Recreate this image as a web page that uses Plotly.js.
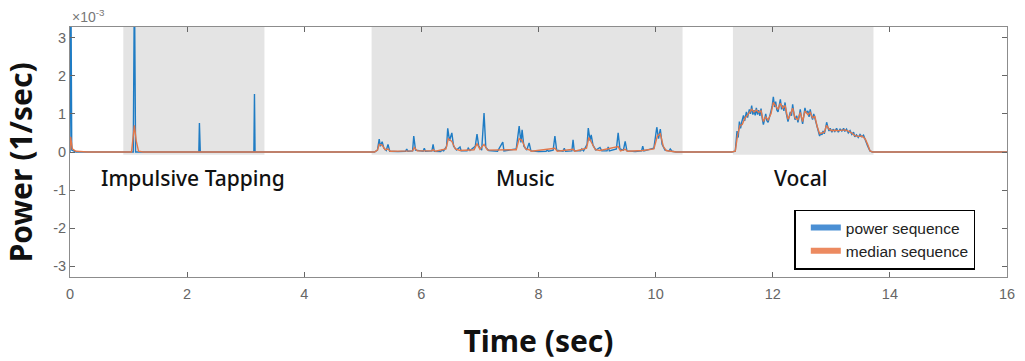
<!DOCTYPE html>
<html>
<head>
<meta charset="utf-8">
<script src="https://cdn.plot.ly/plotly-3.0.1.min.js"></script>
<style>html,body{margin:0;padding:0;background:#fff;}#chart{width:1025px;height:361px;}</style>
</head>
<body>
<div id="chart"></div>
<script>
// ---- data (values in units of 1e-3 1/sec) ----
const tPower = [
  0.00, 0.015, 0.03, 0.10,
  1.08, 1.10, 1.12,
  2.20, 2.21, 2.225,
  3.14, 3.15, 3.16,
  5.20, 5.25, 5.28, 5.30, 5.33, 5.36, 5.40, 5.43, 5.46, 5.60, 5.73, 5.75, 5.77, 5.85, 5.87, 5.90,
  6.03, 6.05, 6.07, 6.18, 6.20, 6.22, 6.33, 6.35, 6.38, 6.43, 6.45, 6.48, 6.52, 6.55, 6.60, 6.66, 6.68,
  6.78, 6.80, 6.83, 6.92, 6.95, 6.98, 7.03, 7.07, 7.10, 7.15, 7.30, 7.39, 7.41, 7.62, 7.67, 7.70, 7.72,
  7.75, 7.80, 7.84, 7.87, 8.00, 8.13, 8.15, 8.17, 8.25, 8.28, 8.31, 8.42, 8.44, 8.46, 8.57, 8.59, 8.61,
  8.72, 8.74, 8.77, 8.83, 8.85, 8.88, 8.90, 8.93, 8.98, 9.05, 9.08, 9.17, 9.19, 9.21, 9.33, 9.36, 9.39,
  9.45, 9.48, 9.51, 9.65, 9.76, 9.78, 9.80, 9.97, 10.02, 10.05, 10.08, 10.11, 10.16, 10.23, 10.25, 10.28, 10.35,
  11.30, 11.36, 11.39, 11.41, 11.43, 11.45, 11.47, 11.50, 11.52, 11.55, 11.57, 11.60, 11.62, 11.64, 11.66,
  11.68, 11.70, 11.72, 11.74, 11.76, 11.78, 11.80, 11.82, 11.84, 11.86, 11.88, 11.90, 11.92, 11.95, 11.97,
  11.99, 12.01, 12.03, 12.05, 12.07, 12.09, 12.11, 12.13, 12.15, 12.17, 12.19, 12.21, 12.23, 12.26, 12.28,
  12.30, 12.32, 12.34, 12.36, 12.38, 12.41, 12.43, 12.45, 12.47, 12.49, 12.51, 12.53, 12.55, 12.57, 12.60,
  12.62, 12.64, 12.66, 12.68, 12.70, 12.72, 12.74, 12.76, 12.78, 12.80, 12.82, 12.84, 12.86, 12.88, 12.90,
  12.92, 12.94, 12.96, 12.98, 13.01, 13.03, 13.06, 13.09, 13.12, 13.15, 13.18, 13.21, 13.23, 13.26, 13.29,
  13.32, 13.35, 13.38, 13.40, 13.43, 13.46, 13.49, 13.52, 13.55, 13.58, 13.60, 13.62, 13.66, 13.70,
  16.00
];
const power = [
  0.00, 4.50, 0.05, 0.00,
  0.00, 4.50, 0.00,
  0.00, 0.76, 0.00,
  0.00, 1.52, 0.00,
  0.00, 0.05, 0.34, 0.15, 0.27, 0.10, 0.04, 0.20, 0.02, 0.01, 0.02, 0.08, 0.02, 0.03, 0.42, 0.05,
  0.02, 0.10, 0.02, 0.03, 0.20, 0.02, 0.01, 0.05, 0.03, 0.15, 0.62, 0.30, 0.50, 0.15, 0.05, 0.13, 0.03,
  0.03, 0.10, 0.04, 0.15, 0.47, 0.15, 0.05, 1.02, 0.12, 0.04, 0.02, 0.26, 0.03, 0.08, 0.68, 0.25, 0.58,
  0.15, 0.05, 0.24, 0.03, 0.01, 0.02, 0.05, 0.02, 0.05, 0.42, 0.05, 0.02, 0.10, 0.02, 0.03, 0.32, 0.03,
  0.03, 0.08, 0.03, 0.20, 0.63, 0.30, 0.45, 0.18, 0.05, 0.12, 0.03, 0.03, 0.13, 0.03, 0.08, 0.50, 0.08,
  0.05, 0.28, 0.03, 0.01, 0.03, 0.15, 0.03, 0.10, 0.65, 0.35, 0.60, 0.20, 0.05, 0.03, 0.08, 0.02, 0.00,
  0.00, 0.02, 0.55, 0.38, 0.80, 0.62, 0.78, 0.96, 0.82, 1.05, 0.90, 1.12, 1.00, 1.22, 0.98,
  1.10, 0.96, 1.16, 0.98, 1.10, 0.95, 1.14, 0.88, 0.72, 0.85, 1.00, 0.82, 0.78, 0.95, 1.08,
  1.20, 1.45, 1.18, 1.32, 1.10, 1.05, 1.25, 1.38, 1.12, 1.22, 1.08, 1.30, 1.02, 0.80, 0.92,
  1.05, 0.95, 1.25, 1.02, 0.85, 0.95, 0.78, 0.92, 1.12, 0.90, 0.74, 0.95, 1.16, 1.02, 1.08,
  0.92, 1.12, 0.95, 0.85, 1.00, 0.88, 0.70, 0.60, 0.52, 0.42, 0.50, 0.45, 0.55, 0.48, 0.60,
  0.78, 0.66, 0.55, 0.62, 0.52, 0.60, 0.54, 0.62, 0.52, 0.60, 0.55, 0.62, 0.54, 0.60, 0.50,
  0.56, 0.46, 0.52, 0.40, 0.45, 0.38, 0.46, 0.40, 0.44, 0.30, 0.25, 0.16, 0.03, 0.00,
  0.00
];
const tMedian = [
  0.00, 0.01, 0.04, 0.10, 0.30,
  1.05, 1.10, 1.13, 1.17, 1.25,
  5.20, 5.25, 5.28, 5.33, 5.38, 5.43, 5.47, 5.85, 5.88, 5.93, 6.18, 6.20, 6.24, 6.42, 6.46, 6.52, 6.58,
  6.66, 6.90, 6.95, 7.00, 7.07, 7.13, 7.39, 7.62, 7.67, 7.72, 7.78, 7.84, 7.88, 8.28, 8.32, 8.59, 8.62,
  8.82, 8.86, 8.91, 8.97, 9.05, 9.36, 9.40, 9.48, 9.52, 9.78, 9.97, 10.03, 10.08, 10.13, 10.18, 10.35,
  11.30, 11.36, 11.40, 11.44, 11.48, 11.52, 11.56, 11.60, 11.64, 11.68, 11.72, 11.76, 11.80, 11.84, 11.88,
  11.92, 11.97, 12.01, 12.05, 12.09, 12.13, 12.17, 12.21, 12.26, 12.30, 12.34, 12.38, 12.43, 12.47, 12.51,
  12.55, 12.60, 12.64, 12.68, 12.72, 12.76, 12.80, 12.84, 12.88, 12.92, 12.96, 13.01, 13.06, 13.12, 13.18,
  13.23, 13.29, 13.35, 13.40, 13.46, 13.52, 13.58, 13.62, 13.66, 13.70,
  16.00
];
const median = [
  0.05, 0.40, 0.08, 0.02, 0.00,
  0.00, 0.70, 0.30, 0.02, 0.00,
  0.00, 0.05, 0.20, 0.18, 0.06, 0.08, 0.02, 0.03, 0.12, 0.03, 0.03, 0.06, 0.02, 0.08, 0.35, 0.28, 0.08,
  0.04, 0.06, 0.22, 0.07, 0.20, 0.05, 0.05, 0.06, 0.35, 0.30, 0.08, 0.06, 0.02, 0.10, 0.02, 0.07, 0.02,
  0.10, 0.38, 0.25, 0.06, 0.04, 0.14, 0.03, 0.07, 0.02, 0.04, 0.08, 0.42, 0.48, 0.15, 0.04, 0.00,
  0.00, 0.02, 0.45, 0.70, 0.72, 0.88, 0.95, 1.05, 1.12, 1.05, 1.10, 1.04, 1.08, 0.80, 0.92,
  0.84, 1.00, 1.30, 1.22, 1.12, 1.28, 1.15, 1.22, 0.86, 0.98, 1.15, 0.90, 0.85, 1.04, 0.80,
  1.08, 0.98, 1.04, 0.90, 0.93, 0.66, 0.48, 0.50, 0.52, 0.70, 0.60, 0.56, 0.57, 0.56, 0.57,
  0.58, 0.55, 0.50, 0.43, 0.41, 0.42, 0.34, 0.20, 0.03, 0.00,
  0.00
];
// shaded segments and their labels
const segLabels = ['Impulsive Tapping', 'Music', 'Vocal'];
const segStart = [0.91, 5.15, 11.32];
const segEnd = [3.32, 10.46, 13.72];
const segLabelX = [2.10, 7.77, 12.48];
const xTicks = [0, 2, 4, 6, 8, 10, 12, 14, 16];
const yTicks = [-3, -2, -1, 0, 1, 2, 3];
const yTickText = ['-3', '-2', '-1', '0', '1', '2', '3'];
const seriesNames = ['power sequence', 'median sequence'];
const xTitle = 'Time (sec)';
const yTitle = 'Power (1/sec)';

const blue = '#1f7cc4';
const orange = '#e2774a';
const tickFont = {family: 'Liberation Sans, Arial, sans-serif', size: 14.5, color: '#666'};
const titleFont = {family: 'Noto Sans, sans-serif', size: 30, color: '#111', weight: 'bold'};

const traces = [
  {x: tPower, y: power, type: 'scatter', mode: 'lines', line: {color: blue, width: 1.4}, showlegend: false, hoverinfo: 'skip'},
  {x: tMedian, y: median, type: 'scatter', mode: 'lines', line: {color: orange, width: 1.4}, showlegend: false, hoverinfo: 'skip'},
  {x: [null], y: [null], type: 'scatter', mode: 'lines', name: seriesNames[0], line: {color: '#4a8fd4', width: 6}},
  {x: [null], y: [null], type: 'scatter', mode: 'lines', name: seriesNames[1], line: {color: '#ec8a60', width: 6}}
];

const shapes = segStart.map((s, i) => ({
  type: 'rect', layer: 'below', xref: 'x', yref: 'y', x0: s, x1: segEnd[i], y0: -0.07, y1: 3.3,
  fillcolor: '#e4e4e4', line: {width: 0}
}));

const annotations = segLabels.map((t, i) => ({
  x: segLabelX[i], y: -0.68, xref: 'x', yref: 'y', text: t, showarrow: false,
  font: {family: 'Noto Sans, sans-serif', size: 21, color: '#111', weight: 500}
}));
annotations.push({
  x: 0, y: 1, xref: 'paper', yref: 'paper', xanchor: 'left', yanchor: 'bottom', yshift: 0,
  text: '×10<sup>-3</sup>', showarrow: false,
  font: {family: 'Liberation Sans, Arial, sans-serif', size: 14, color: '#777'}
});
// y-axis title placed as rotated text beside the axis
annotations.push({
  x: -0.053, y: 0.46, xref: 'paper', yref: 'paper', xanchor: 'center', yanchor: 'middle',
  text: yTitle, textangle: -90, showarrow: false, font: titleFont
});

const layout = {
  width: 1025, height: 361,
  margin: {l: 70, r: 18, t: 27, b: 84},
  paper_bgcolor: '#fff', plot_bgcolor: '#fff',
  xaxis: {
    range: [0, 16], tickvals: xTicks, ticks: 'inside', ticklen: 5, tickcolor: '#666',
    showline: true, linecolor: '#8c8c8c', linewidth: 1, mirror: 'ticks',
    showgrid: false, zeroline: false, tickfont: tickFont, ticklabelstandoff: 4,
    title: {text: xTitle, standoff: 30, font: titleFont}
  },
  yaxis: {
    range: [-3.28, 3.28], tickvals: yTicks, ticktext: yTickText, ticks: 'inside', ticklen: 5, tickcolor: '#666',
    showline: true, linecolor: '#8c8c8c', linewidth: 1, mirror: 'ticks',
    showgrid: false, zeroline: false, tickfont: tickFont
  },
  legend: {
    x: 0.773, y: 0.27, xanchor: 'left', yanchor: 'top',
    bgcolor: '#fff', bordercolor: '#000', borderwidth: 1.5,
    font: {family: 'Liberation Sans, Arial, sans-serif', size: 15.5, color: '#222'},
    tracegroupgap: 0, itemwidth: 30, indentation: 10
  },
  shapes: shapes,
  annotations: annotations,
  showlegend: true
};

Plotly.newPlot('chart', traces, layout, {staticPlot: true, displayModeBar: false});
</script>
</body>
</html>
